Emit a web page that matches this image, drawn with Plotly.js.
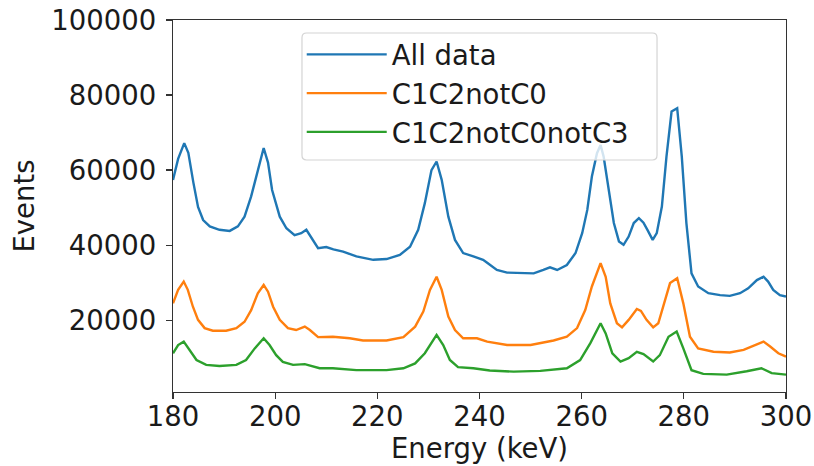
<!DOCTYPE html>
<html>
<head>
<meta charset="utf-8">
<script src="https://cdn.plot.ly/plotly-3.0.1.min.js"></script>
<style>html,body{margin:0;padding:0;background:#fff;}#chart{width:814px;height:466px;}</style>
</head>
<body>
<div id="chart"></div>
<script>
// ---- Data ----
const seriesNames = ["All data", "C1C2notC0", "C1C2notC0notC3"];

const energyAll = [180.0,181.0,182.2,183.0,184.0,184.9,185.9,187.2,189.1,189.8,191.1,192.7,194.0,195.3,196.6,197.75,198.6,199.4,200.9,202.2,203.8,205.1,206.1,207.1,208.4,210.0,211.4,213.3,215.9,219.2,221.8,224.4,226.4,228.0,229.3,230.6,231.6,232.6,233.9,235.2,236.8,238.8,240.7,241.5,243.4,245.4,248.0,250.6,252.5,253.8,255.2,257.1,258.8,260.1,261.1,262.0,263.0,263.7,264.3,265.3,266.3,267.3,268.2,269.2,270.2,271.2,272.1,272.9,273.9,274.7,275.7,276.6,277.6,278.7,279.6,280.5,281.5,282.8,284.8,287.1,289.0,291.0,292.6,294.3,295.6,296.5,297.5,298.8,300.0];
const eventsAll = [57400,63000,67200,64600,56600,50200,46700,45000,44100,44000,43800,45000,47600,53000,60000,65900,62000,54700,47600,44500,42700,43200,44100,41900,39200,39500,38900,38300,37000,36100,36300,37400,39600,44100,51200,60000,62300,57400,47600,41400,37900,37000,36100,35300,33400,32700,32700,32500,33400,34100,33400,34700,37900,43200,49400,58300,64500,66700,63600,54700,45900,41000,40100,42300,45900,47200,46000,44000,41400,43200,50300,63600,75600,76500,63600,45900,32500,29000,27200,26700,26500,27200,28500,30700,31600,30300,28100,26700,26300];

const energyC1C2notC0 = [180.0,181.0,182.1,182.9,183.9,184.9,186.2,187.8,190.4,192.4,194.0,195.3,196.6,197.75,198.6,199.6,200.9,202.5,204.1,205.8,206.8,208.4,211.3,214.6,217.2,221.8,225.1,227.4,229.0,230.3,231.6,232.6,233.9,235.2,236.8,239.5,241.5,245.4,250.0,253.2,254.5,257.1,259.1,260.7,262.0,263.7,264.7,265.6,266.9,267.9,269.2,270.8,271.6,272.7,274.0,275.0,276.0,277.3,278.7,279.9,281.2,282.8,285.8,289.0,291.7,294.0,295.6,296.9,298.5,300.0];
const eventsC1C2notC0 = [24500,28100,30300,28100,23600,20100,17900,17200,17200,17900,19600,22700,27200,29400,27600,23600,20100,17900,17400,18300,17400,15500,15600,15200,14600,14600,15500,18300,22300,28100,31600,28100,21000,17400,15200,15200,14300,13400,13400,14300,14600,15600,17900,22700,29000,35200,31600,24500,19200,18100,20100,23000,22500,20100,18100,19200,23600,29900,31200,24500,15600,12500,11600,11400,12100,13400,14300,13000,11200,10300];

const energyC1C2notC0notC3 = [180.0,181.0,182.1,183.3,184.6,186.5,189.1,192.4,194.3,196.0,197.75,198.9,200.2,201.5,203.5,205.8,207.4,208.7,211.3,215.9,221.8,225.1,227.4,229.3,231.6,232.9,234.2,235.8,238.8,242.0,246.7,251.9,257.1,259.7,261.7,263.7,264.7,266.0,267.6,269.2,270.8,272.1,274.0,275.3,277.0,278.6,279.9,281.5,283.8,288.4,292.3,295.2,297.2,300.0];
const eventsC1C2notC0notC3 = [11200,13400,14300,12100,9400,8100,7800,8100,9400,12500,15200,13400,10700,8900,8100,8300,7600,7200,7200,6700,6700,7200,8500,11200,16100,13400,9400,7500,7200,6600,6300,6500,7200,9400,13900,19200,16500,11200,9000,9900,11600,11000,9000,10700,15600,17000,12500,6700,5700,5500,6400,7200,5900,5500];

const xTickVals = [180, 200, 220, 240, 260, 280, 300];
const yTickVals = [20000, 40000, 60000, 80000, 100000];
const xTitle = "Energy (keV)";
const yTitle = "Events";

// ---- Styling ----
const colors = ["#1f77b4", "#ff7f0e", "#2ca02c"];
const FONT = "DejaVu Sans, sans-serif";
const FS = 27.5;

const traces = [
  {x: energyAll, y: eventsAll},
  {x: energyC1C2notC0, y: eventsC1C2notC0},
  {x: energyC1C2notC0notC3, y: eventsC1C2notC0notC3}
].map((d, i) => ({
  type: "scatter", mode: "lines", name: seriesNames[i],
  x: d.x, y: d.y,
  line: {color: colors[i], width: 2.4}
}));

const axisCommon = {
  showline: true, linecolor: "#333", linewidth: 1.3, mirror: true,
  ticks: "outside", ticklen: 6, tickwidth: 1.3, tickcolor: "#333",
  showgrid: false, zeroline: false,
  tickfont: {family: FONT, size: FS, color: "#1a1a1a"}
};

// legend frame (rounded, semi-transparent) in paper coordinates
const bx0 = 0.2104, bx1 = 0.7896, by0 = 0.6237, by1 = 0.965, rx = 0.0075, ry = 0.0125;
const framePath =
  `M ${bx0+rx},${by1} L ${bx1-rx},${by1} Q ${bx1},${by1} ${bx1},${by1-ry} ` +
  `L ${bx1},${by0+ry} Q ${bx1},${by0} ${bx1-rx},${by0} ` +
  `L ${bx0+rx},${by0} Q ${bx0},${by0} ${bx0},${by0+ry} ` +
  `L ${bx0},${by1-ry} Q ${bx0},${by1} ${bx0+rx},${by1} Z`;

const layout = {
  width: 814, height: 466,
  margin: {l: 173, r: 28, t: 20, b: 74},
  paper_bgcolor: "#fff", plot_bgcolor: "#fff",
  showlegend: true,
  legend: {
    x: 0.21, y: 0.973, xanchor: "left", yanchor: "top",
    bgcolor: "rgba(0,0,0,0)", borderwidth: 0,
    font: {family: FONT, size: FS, color: "#1a1a1a"},
    itemwidth: 80, tracegroupgap: 0
  },
  shapes: [{
    type: "path", xref: "paper", yref: "paper", layer: "above",
    path: framePath,
    fillcolor: "rgba(255,255,255,0.8)",
    line: {color: "#d4d4d4", width: 1.2}
  }],
  xaxis: Object.assign({}, axisCommon, {
    range: [180, 300], tickvals: xTickVals, ticktext: xTickVals.map(String),
    ticklabelstandoff: -6,
    title: {text: xTitle, font: {family: FONT, size: FS, color: "#1a1a1a"}, standoff: 0}
  }),
  yaxis: Object.assign({}, axisCommon, {
    range: [880, 100000], tickvals: yTickVals, ticktext: yTickVals.map(String),
    ticklabelstandoff: 4,
    title: {text: yTitle, font: {family: FONT, size: FS, color: "#1a1a1a"}, standoff: 8}
  })
};

Plotly.newPlot("chart", traces, layout, {displayModeBar: false, staticPlot: true});
</script>
</body>
</html>
